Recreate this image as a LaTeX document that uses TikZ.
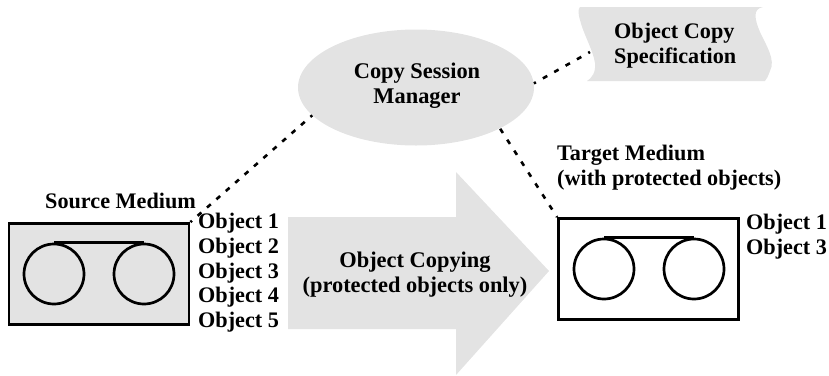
\documentclass[tikz,border=0pt]{standalone}
\usepackage{fontspec}
\setmainfont{Liberation Serif}
\usetikzlibrary{shapes.geometric}
\definecolor{shadegray}{HTML}{E3E3E3}
\tikzset{
  x=1pt,y=-1pt,
  lbl/.style={font=\fontsize{22.2}{24.7}\selectfont\bfseries,align=left,inner sep=0pt,text depth=0pt},
  clbl/.style={font=\fontsize{22.4}{25}\selectfont\bfseries,align=center,inner sep=0pt},
  box/.style={draw=black,line width=2.9pt,minimum width=180pt,minimum height=101pt,inner sep=0pt},
  reel/.style={circle,draw=black,line width=2.7pt,minimum size=60pt,inner sep=0pt},
  tape/.style={draw=black,line width=2.7pt},
  link/.style={draw=black,line width=2.6pt,dash pattern=on 5pt off 8pt,dash phase=3pt},
  shade/.style={fill=shadegray,draw=none}
}
\begin{document}
\begin{tikzpicture}
\useasboundingbox (0,0) rectangle (829,375);
% block arrow
\fill[shade] (288,217) -- (456,217) -- (456,172) -- (549,271) -- (456,375) -- (456,329) -- (288,329) -- cycle;
\node[clbl] (copying) at (415,275) {Object Copying\\(protected objects only)};
% session manager
\node[shade,ellipse,minimum width=236pt,minimum height=116pt,inner sep=0pt] (mgr) at (416,87.5) {};
\node[clbl] (mgrtext) at (417,85.5) {Copy Session\\Manager};
% specification
\fill[shade] (580,7) -- (763,7) .. controls (752,9) and (755,20) .. (760,32)
  .. controls (766,45) and (776,60) .. (770,71) .. controls (768,76) and (767,79) .. (765,81)
  -- (587,81) .. controls (592,78) and (596,72) .. (595,63)
  .. controls (593,50) and (583,33) .. (580,20) .. controls (578,13) and (578,9) .. (580,7) -- cycle;
\node[lbl,anchor=west] (spec) at (614,43) {Object Copy\\Specification};
\coordinate (specedge) at (590,52);
% source medium
\node[shade,box] (src) at (99,274) {};
\node[reel] (srcl) at (54,274) {};
\node[reel] (srcr) at (144,274) {};
\draw[tape] (srcl.north) -- (srcr.north);
\node[lbl,anchor=west] (srcname) at (45,201) {Source Medium};
\node[lbl,anchor=north west] (srcobj) at (198,213) {Object 1\\Object 2\\Object 3\\Object 4\\Object 5};
% target medium
\node[box] (tgt) at (648.5,269) {};
\node[reel] (tgtl) at (604,269) {};
\node[reel] (tgtr) at (694,269) {};
\draw[tape] (tgtl.north) -- (tgtr.north);
\node[lbl,anchor=west] (tgtname) at (557,165.5) {Target Medium\\(with protected objects)};
\node[lbl,anchor=north west] (tgtobj) at (746,214) {Object 1\\Object 3};
% connectors
\draw[link,dash pattern=on 5pt off 7.5pt,dash phase=3pt] (src.north east) -- (mgr.195);
\draw[link,dash phase=4pt] (tgt.north west) -- (mgr.334);
\draw[link] (specedge) -- (mgr.2);
\end{tikzpicture}
\end{document}
